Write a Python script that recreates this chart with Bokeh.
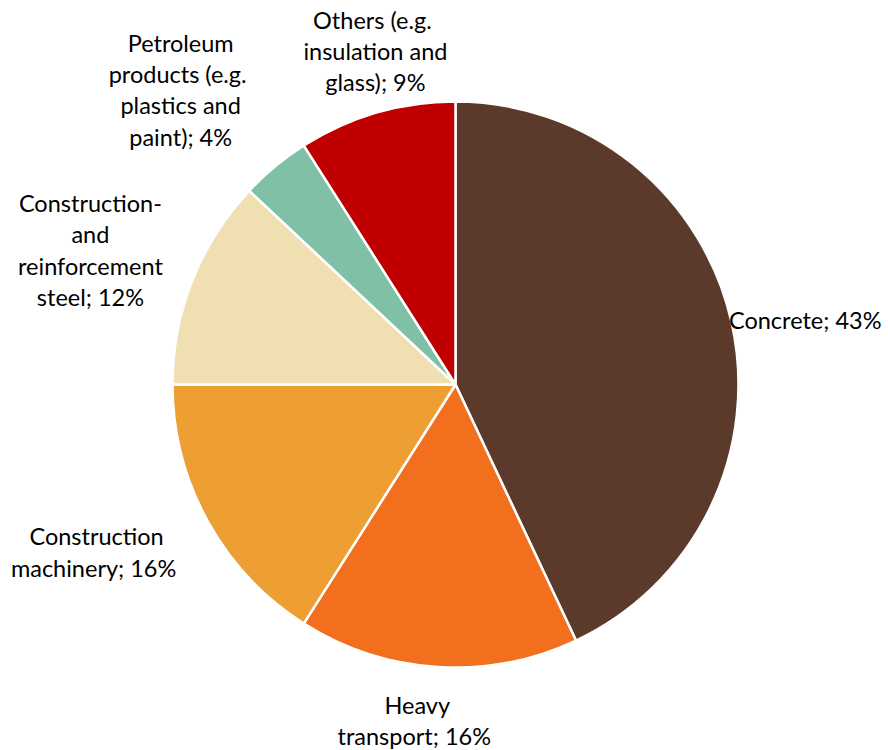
import math
from bokeh.plotting import figure
from bokeh.models import Range1d, ColumnDataSource
from bokeh.core.properties import value
from bokeh.embed import file_html
from bokeh.resources import INLINE

categories = [
    "Concrete; 43%",
    "Heavy\ntransport;  16%",
    "Construction\nmachinery;  16%",
    "Construction-\nand\nreinforcement\nsteel; 12%",
    "Petroleum\nproducts  (e.g.\nplastics and\npaint); 4%",
    "Others  (e.g.\ninsulation and\nglass); 9%",
]
shares = [43, 16, 16, 12, 4, 9]
colors = ["#5B3A2C", "#F26F1D", "#EE9F34", "#F0DFB1", "#7FC0A7", "#C00000"]

W, H = 888, 750
cx, cy, R = 455, H - 384, 283

# label layout (radius in px, angle nudge in degrees, alignment)
label_r = [281, 338, 396, 389, 403, 343]
label_nudge = [0.7, -2.9, -3.8, 1.4, 3.4, -2.7]
label_align = ["left", "center", "center", "center", "center", "center"]

total = sum(shares)
starts, ends, mids = [], [], []
acc = 0.0
for s in shares:
    a0 = math.pi / 2 - 2 * math.pi * acc / total
    acc += s
    a1 = math.pi / 2 - 2 * math.pi * acc / total
    starts.append(a0)
    ends.append(a1)
    mids.append((a0 + a1) / 2)

p = figure(width=W, height=H, output_backend="svg", toolbar_location=None,
           x_range=Range1d(0, W), y_range=Range1d(0, H), min_border=0)
p.axis.visible = False
p.grid.visible = False
p.outline_line_color = None
p.background_fill_color = "white"

src = ColumnDataSource(dict(start=starts, end=ends, color=colors))
p.wedge(x=cx, y=cy, radius=R, start_angle="start", end_angle="end",
        direction="clock", fill_color="color", line_color="white",
        line_width=2.5, source=src)

for i, txt in enumerate(categories):
    ang = mids[i] + math.radians(label_nudge[i])
    lx = cx + label_r[i] * math.cos(ang)
    ly = cy + label_r[i] * math.sin(ang)
    p.text(x=[lx], y=[ly], text=[txt], text_font=value("Lato"),
           text_font_size="23.5px", text_color="#000000",
           text_align=label_align[i], text_baseline="middle",
           text_line_height=1.12)

open("out.html", "w").write(file_html(p, INLINE))
